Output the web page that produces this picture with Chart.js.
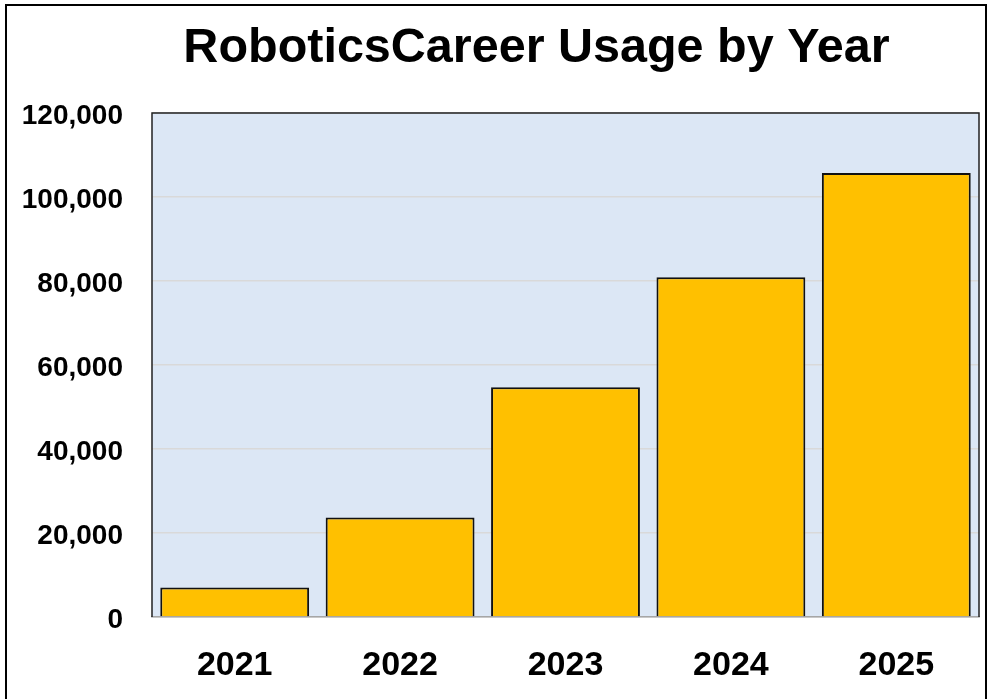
<!DOCTYPE html>
<html>
<head>
<meta charset="utf-8">
<script src="https://cdn.jsdelivr.net/npm/chart.js@4/dist/chart.umd.min.js"></script>
<style>
  body { margin: 0; background: #fff; }
  #wrap { position: relative; width: 993px; height: 699px; }
  #frame { position: absolute; left: 5px; top: 4px; width: 982px; height: 720px; border: 2px solid #000; box-sizing: border-box; }
</style>
</head>
<body>
<div id="wrap">
  <div id="frame"></div>
  <canvas id="usage"></canvas>
</div>
<script>
// chart data
const years = ['2021', '2022', '2023', '2024', '2025'];
const usage = [7000, 23700, 54700, 80900, 105700];
const yTicks = [0, 20000, 40000, 60000, 80000, 100000, 120000];
const chartTitle = 'RoboticsCareer Usage by Year';

// light blue plot background + dark border on top/left/right
const plotArea = {
    id: 'plotArea',
    beforeDraw(chart) {
        const { ctx, chartArea: a } = chart;
        ctx.save();
        ctx.fillStyle = '#DCE7F5';
        ctx.fillRect(a.left, a.top, a.right - a.left, a.bottom - a.top);
        ctx.restore();
    },
    afterDraw(chart) {
        const { ctx, chartArea: a } = chart;
        ctx.save();
        ctx.strokeStyle = '#222';
        ctx.lineWidth = 1.5;
        ctx.beginPath();
        ctx.moveTo(a.left, a.bottom);
        ctx.lineTo(a.left, a.top);
        ctx.lineTo(a.right, a.top);
        ctx.lineTo(a.right, a.bottom);
        ctx.stroke();
        ctx.restore();
    }
};

// title sits a bit left of the plot centre in the original, so draw it by hand
const titleText = {
    id: 'titleText',
    afterDraw(chart) {
        const { ctx, chartArea: a } = chart;
        ctx.save();
        ctx.fillStyle = '#000';
        ctx.font = 'bold 48.5px "Liberation Sans", Arial, sans-serif';
        ctx.textAlign = 'center';
        ctx.textBaseline = 'alphabetic';
        ctx.fillText(chartTitle, (a.left + a.right) / 2 - 29, a.top - 51);
        ctx.restore();
    }
};

const ctx = document.getElementById('usage').getContext('2d');
new Chart(ctx, {
    type: 'bar',
    data: {
        labels: years,
        datasets: [{
            data: usage,
            backgroundColor: '#FFC000',
            borderColor: '#111',
            borderWidth: 2,
            barPercentage: 0.9,
            categoryPercentage: 1.0
        }]
    },
    options: {
        responsive: true,
        maintainAspectRatio: false,
        animation: false,
        layout: { padding: { left: 0, right: 14, top: 113, bottom: 12 } },
        plugins: {
            legend: { display: false },
            tooltip: { enabled: false },
            title: { display: false }
        },
        scales: {
            x: {
                afterFit(scale) { scale.height = 70; },
                grid: { display: false, drawTicks: false },
                border: { color: '#a6a6a6', width: 1.5 },
                ticks: {
                    color: '#000',
                    padding: 28,
                    font: { family: 'Liberation Sans, Arial, sans-serif', size: 34, weight: 'bold' }
                }
            },
            y: {
                min: 0,
                max: 120000,
                afterFit(scale) { scale.width = 152; },
                afterBuildTicks(scale) { scale.ticks = yTicks.map(v => ({ value: v })); },
                grid: { color: '#d9d9d9', lineWidth: 1.5, drawTicks: false },
                border: { display: false },
                ticks: {
                    color: '#000',
                    padding: 29,
                    labelOffset: 3,
                    font: { family: 'Liberation Sans, Arial, sans-serif', size: 28, weight: 'bold' },
                    callback: v => v.toLocaleString('en-US')
                }
            }
        }
    },
    plugins: [plotArea, titleText]
});
</script>
</body>
</html>
